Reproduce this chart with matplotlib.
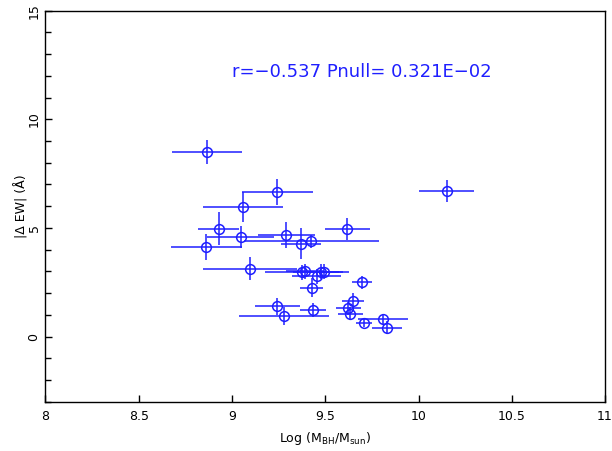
import matplotlib.pyplot as plt
from matplotlib.ticker import MultipleLocator

# Black hole mass vs |delta EW|
log_mbh = [8.866, 9.243, 9.057, 8.929, 9.047, 8.861, 9.291, 9.368, 9.426, 9.618,
           9.097, 9.375, 9.391, 9.454, 9.476, 9.493, 9.427, 9.699, 9.650, 9.624,
           9.635, 9.242, 9.280, 9.432, 9.708, 9.808, 9.830, 10.151]
delta_ew = [8.51, 6.66, 5.95, 4.97, 4.58, 4.12, 4.67, 4.28, 4.39, 4.96,
            3.12, 2.95, 3.00, 2.77, 2.98, 2.99, 2.25, 2.49, 1.64, 1.31,
            1.05, 1.39, 0.95, 1.23, 0.64, 0.79, 0.41, 6.69]
mbh_err = [0.19, 0.19, 0.215, 0.11, 0.18, 0.19, 0.153, 0.107, 0.36, 0.12,
           0.25, 0.20, 0.10, 0.13, 0.15, 0.10, 0.06, 0.054, 0.06, 0.067,
           0.065, 0.12, 0.24, 0.07, 0.045, 0.134, 0.08, 0.147]
ew_err = [0.56, 0.6, 0.7, 0.75, 0.5, 0.6, 0.6, 0.7, 0.3, 0.5,
          0.53, 0.35, 0.35, 0.35, 0.35, 0.35, 0.45, 0.3, 0.35, 0.3,
          0.3, 0.38, 0.4, 0.33, 0.2, 0.2, 0.3, 0.5]

stats_text = 'r=\u22120.537 Pnull= 0.321E\u221202'

blue = '#1f1fff'

fig = plt.figure(figsize=(6.12, 4.51), dpi=100)
ax = fig.add_axes([0.0743, 0.1093, 0.9143, 0.867])

ax.errorbar(log_mbh, delta_ew, xerr=mbh_err, yerr=ew_err, fmt='o',
            mfc='none', mec=blue, ecolor=blue, color=blue,
            ms=7, mew=1.1, elinewidth=1.1, capsize=0)

ax.text(9.0, 12.2, stats_text, color=blue, fontsize=13, va='center', ha='left')

# Axis limits and ticks
ax.set_xlim(8, 11)
ax.set_ylim(-3, 15)
ax.xaxis.set_major_locator(MultipleLocator(0.5))
ax.xaxis.set_major_formatter(plt.FuncFormatter(lambda v, p: ('%g' % v)))
ax.yaxis.set_major_locator(MultipleLocator(5))
ax.yaxis.set_minor_locator(MultipleLocator(1))
ax.tick_params(direction='in', length=5, width=1, labelsize=9)
ax.tick_params(axis='x', pad=6)
ax.tick_params(which='minor', direction='in', length=4, width=1)
for lab in ax.get_yticklabels():
    lab.set_rotation(90)
    lab.set_va('center')

ax.set_xlabel('Log (M$_{\\rm BH}$/M$_{\\rm sun}$)', fontsize=9, labelpad=5)
ax.set_ylabel('|\u0394 EW| (\u00c5)', fontsize=9, labelpad=-1)

for s in ax.spines.values():
    s.set_linewidth(1.0)

plt.savefig('out.png', dpi=100)
